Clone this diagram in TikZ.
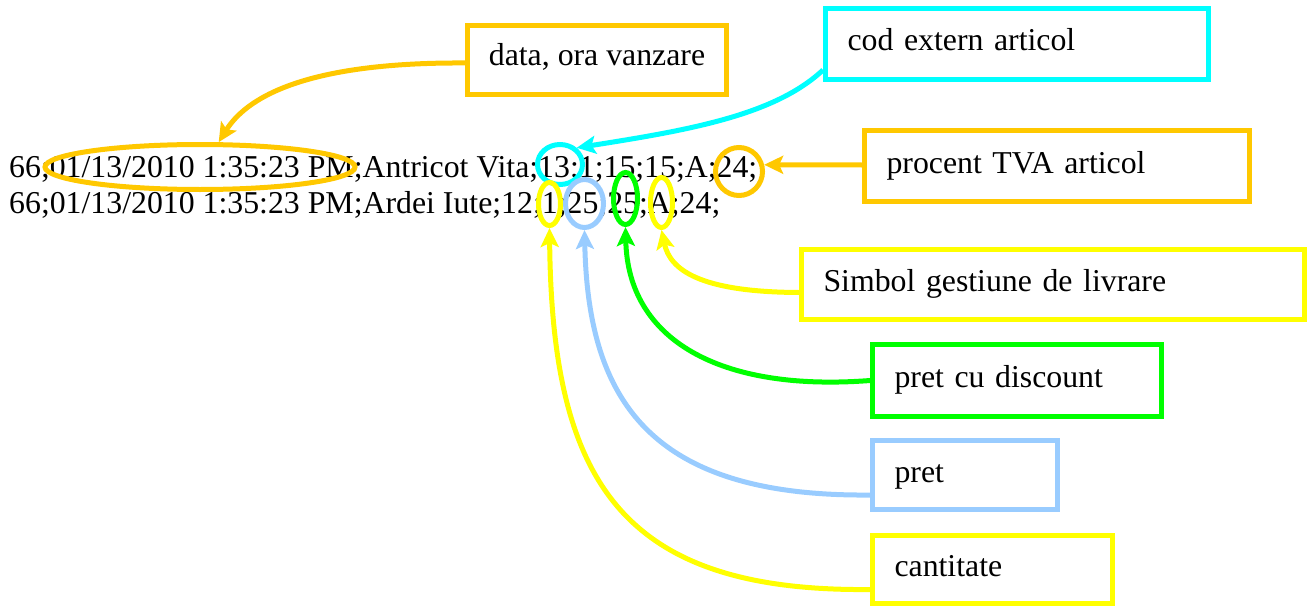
\documentclass[tikz,border=0pt]{standalone}
\usepackage{fontspec}
\setmainfont{Liberation Serif}
\usepackage{tikz}
\usetikzlibrary{shapes.geometric, arrows.meta, positioning}
\definecolor{MarkGold}{HTML}{FFC800}
\definecolor{MarkCyan}{HTML}{00FFFF}
\definecolor{MarkYellow}{HTML}{FFFF00}
\definecolor{MarkGreen}{HTML}{00FF00}
\definecolor{MarkBlue}{HTML}{99CCFF}
\newcommand{\recfont}{\fontsize{31.8}{36}\selectfont\frenchspacing\hyphenpenalty=10000}
\tikzset{
  fieldbox/.style={rectangle, draw=#1, line width=5pt, anchor=north west, inner xsep=22pt, inner ysep=0pt, align=left, text height=22pt, text depth=8pt, font=\recfont},
  fieldring/.style={ellipse, draw=#1, line width=5pt, inner sep=0pt},
  recline/.style={anchor=base west, inner sep=0pt, font=\recfont},
  pointer/.style={-{Stealth[length=19pt, width=18pt, inset=4pt]}, line width=5pt, draw=#1}
}
\begin{document}
\begin{tikzpicture}[x=1pt, y=-1pt]
  \useasboundingbox (0,0) rectangle (1313,607);

  % label boxes
  \node[fieldbox=MarkGold, inner xsep=0pt, minimum width=259pt, text depth=10pt, minimum height=69pt] (db) at (465,23) {data, ora vanzare};
  \node[fieldbox=MarkCyan, text width=339pt, minimum height=71pt] (cb) at (823,6) {cod extern articol};
  \node[fieldbox=MarkGold, text width=341pt, minimum height=71pt] (tb) at (862,128) {procent TVA articol};
  \node[fieldbox=MarkYellow, text width=459pt, minimum height=70pt] (sb) at (799,247) {Simbol gestiune de livrare};
  \node[fieldbox=MarkGreen, text width=245pt, minimum height=72pt] (gb) at (870,342) {pret cu discount};
  \node[fieldbox=MarkBlue, text width=141pt, minimum height=69pt] (bb) at (870,438) {pret};
  \node[fieldbox=MarkYellow, text width=196pt, minimum height=68pt] (qb) at (870,533) {cantitate};

  % record lines
  \node[recline] (rec1) at (9,177) {66;01/13/2010 1:35:23 PM;Antricot Vita;13;1;15;15;A;24;};
  \node[recline] (rec2) at (9,213) {66;01/13/2010 1:35:23 PM;Ardei Iute;12;1;25;25;A;24;};

  % marks on the fields
  \node[fieldring=MarkGold, minimum width=310pt, minimum height=45pt] (dt) at (200,167) {};
  \node[fieldring=MarkCyan, minimum width=45pt, minimum height=40pt] (cod) at (560,164.5) {};
  \node[fieldring=MarkGold, minimum width=47pt, minimum height=48pt] (tva) at (739,171.5) {};
  \node[fieldring=MarkYellow, minimum width=22pt, minimum height=43pt] (qt) at (549.5,204) {};
  \node[fieldring=MarkBlue, minimum width=38pt, minimum height=48pt] (pr) at (584.5,203.5) {};
  \node[fieldring=MarkGreen, minimum width=24pt, minimum height=52pt] (pd) at (625.5,198.5) {};
  \node[fieldring=MarkYellow, minimum width=22pt, minimum height=50pt] (sg) at (661.5,202.5) {};

  % pointers
  \draw[pointer=MarkGold] ([yshift=-3pt]db.west) .. controls (300,62) and (245,100) .. (dt.53);
  \draw[pointer=MarkCyan] ([yshift=12pt]cb.south west) .. controls (775,115) and (690,130) .. (cod.45);
  \draw[pointer=MarkGold] ([yshift=1pt]tb.west) -- (tva.15);
  \draw[pointer=MarkYellow] ([yshift=-8pt]sb.west) .. controls (700,292) and (670,270) .. (sg.south);
  \draw[pointer=MarkGreen] (gb.west) .. controls (720,392) and (628,340) .. (pd.south);
  \draw[pointer=MarkBlue] ([yshift=-20pt]bb.west) .. controls (650,497) and (588,400) .. (pr.south);
  \draw[pointer=MarkYellow] ([yshift=-20pt]qb.west) .. controls (620,592) and (552,480) .. (qt.south);
\end{tikzpicture}
\end{document}
